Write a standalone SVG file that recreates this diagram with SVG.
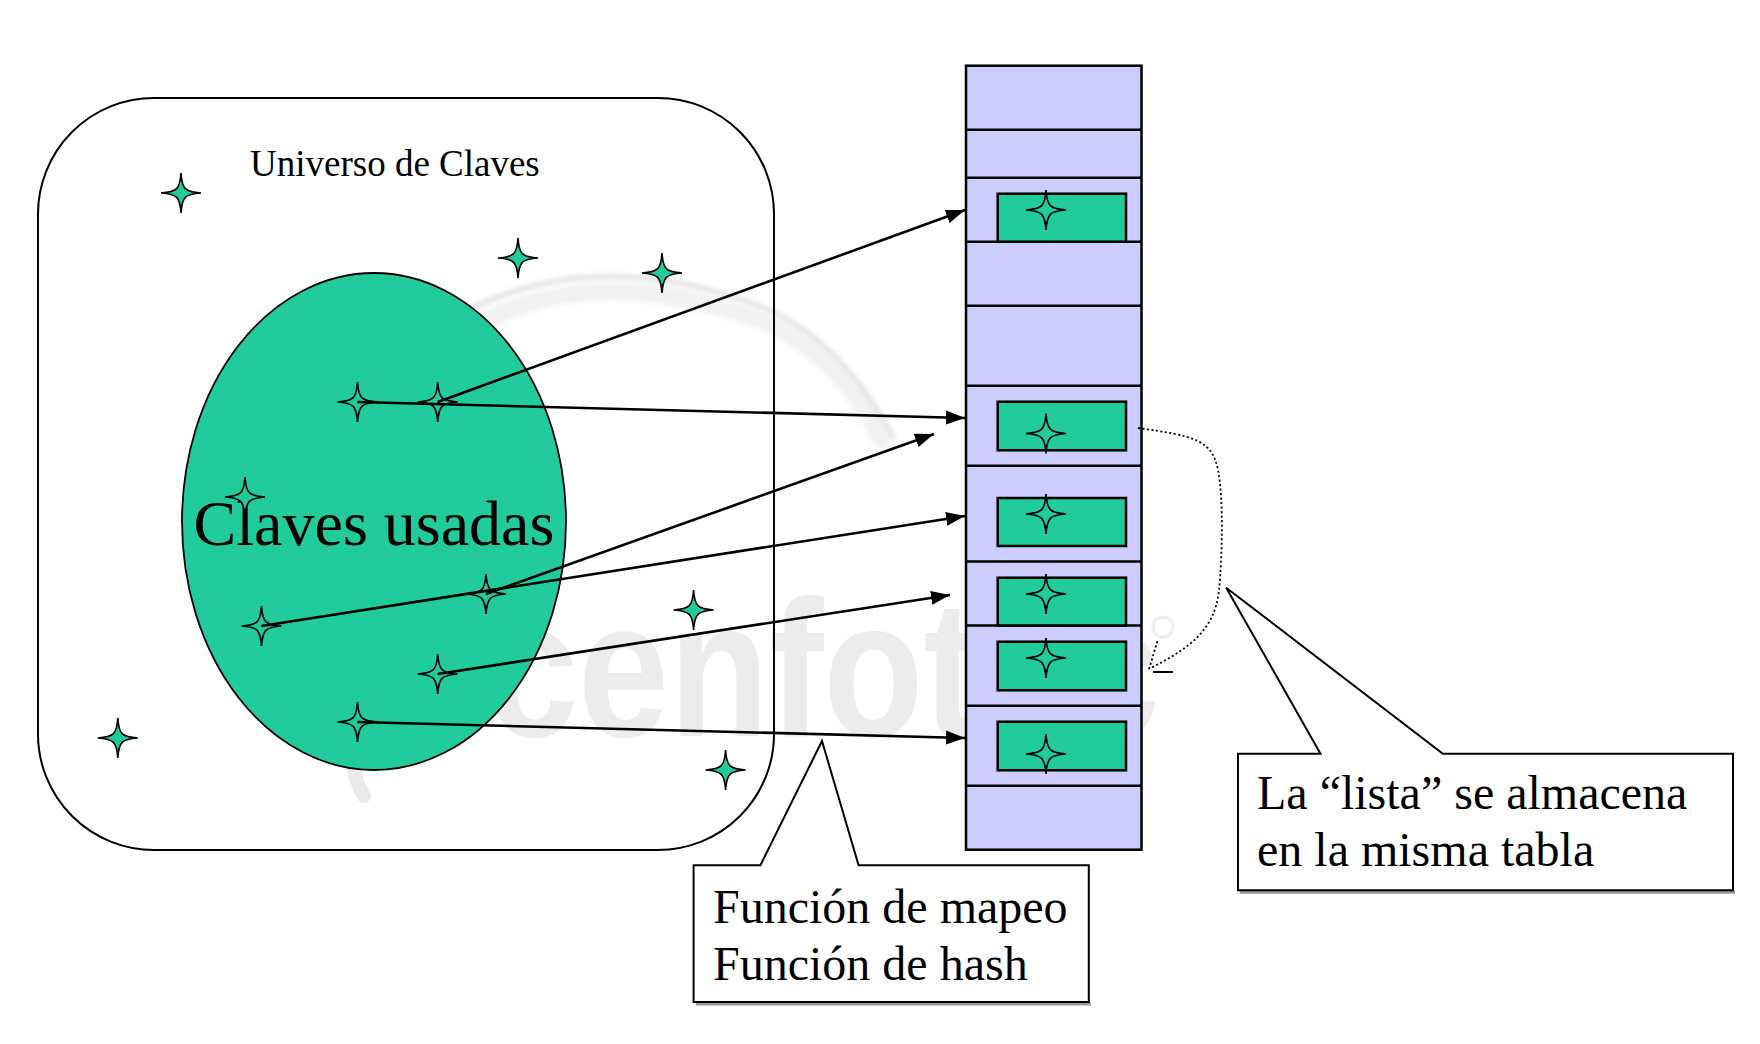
<svg xmlns="http://www.w3.org/2000/svg" width="1760" height="1044" viewBox="0 0 1760 1044">
<style>
.txt{font-family:"Liberation Serif","Times New Roman",serif;fill:#000}
.star{fill:#22CB9B;stroke:#000;stroke-width:1.6;stroke-linejoin:miter}
.cell{fill:#CCCCFF;stroke:#000;stroke-width:2.5}
.row{stroke:#000;stroke-width:2.5}
.box{fill:#22CB9B;stroke:#000;stroke-width:2.5}
.arrow{stroke:#000;stroke-width:2.6;fill:none;marker-end:url(#ah)}
.callout{fill:#fff;stroke:#000;stroke-width:2}
.shadow{fill:none;stroke:#9a9a9a;stroke-width:3}
</style>
<defs>
<marker id="ah" markerUnits="userSpaceOnUse" markerWidth="20" markerHeight="16" refX="19" refY="8" orient="auto">
<path d="M0,1 L19,8 L0,15 Z" fill="#000"/>
</marker>
<path id="star" class="star" d="M0,-20 C1,-4 4,-1 20,0 C4,1 1,4 0,20 C-1,4 -4,1 -20,0 C-4,-1 -1,-4 0,-20 Z"/>
<filter id="soft" x="-10%" y="-10%" width="120%" height="120%"><feGaussianBlur stdDeviation="2.5"/></filter>
</defs>
<rect width="1760" height="1044" fill="#fff"/>

<g id="watermark">
<path d="M482,322 Q600,262 760,320 Q838,352 882,440" fill="none" stroke="#F1F1F1" stroke-width="18" stroke-linecap="round" filter="url(#soft)"/>
<path d="M473,308 Q600,246 760,306 Q840,338 893,437" fill="none" stroke="#D9D9D9" stroke-width="4" stroke-linecap="round" filter="url(#soft)"/>
<path d="M350,750 Q352,775 364,796" fill="none" stroke="#EAEAEA" stroke-width="14" stroke-linecap="round"/>
<text x="487" y="736" font-family="Liberation Sans, Arial, sans-serif" font-weight="bold" font-size="195" textLength="673" lengthAdjust="spacingAndGlyphs" fill="#ECECEC">cenfotec</text>
<circle cx="1163" cy="627" r="10" fill="none" stroke="#EEEEEE" stroke-width="3"/>
</g>

<g id="universe">
<rect x="38" y="98" width="736" height="752" rx="116" ry="116" fill="none" stroke="#000" stroke-width="2"/>
<text class="txt" x="250" y="176" font-size="37">Universo de Claves</text>
</g>

<g id="used-keys">
<ellipse cx="374" cy="521.5" rx="192" ry="248.5" fill="#22CB9B" stroke="#000" stroke-width="1.8"/>
<text class="txt" x="374" y="545" font-size="64" text-anchor="middle">Claves usadas</text>
</g>

<g id="keys">
<use href="#star" x="181" y="193"/>
<use href="#star" x="518" y="258"/>
<use href="#star" x="662" y="273"/>
<use href="#star" x="357.5" y="402"/>
<use href="#star" x="437.7" y="402"/>
<use href="#star" x="245" y="497"/>
<use href="#star" x="486" y="594"/>
<use href="#star" x="261.5" y="626"/>
<use href="#star" x="693.6" y="610"/>
<use href="#star" x="437.7" y="674"/>
<use href="#star" x="357.5" y="722"/>
<use href="#star" x="117.8" y="738"/>
<use href="#star" x="725.6" y="770"/>
</g>

<g id="hash-table">
<rect class="cell" x="966" y="65.7" width="175.5" height="784"/>
<line class="row" x1="966" y1="129.7" x2="1141.5" y2="129.7"/>
<line class="row" x1="966" y1="177.7" x2="1141.5" y2="177.7"/>
<line class="row" x1="966" y1="241.7" x2="1141.5" y2="241.7"/>
<line class="row" x1="966" y1="305.7" x2="1141.5" y2="305.7"/>
<line class="row" x1="966" y1="385.7" x2="1141.5" y2="385.7"/>
<line class="row" x1="966" y1="465.7" x2="1141.5" y2="465.7"/>
<line class="row" x1="966" y1="561.5" x2="1141.5" y2="561.5"/>
<line class="row" x1="966" y1="625.5" x2="1141.5" y2="625.5"/>
<line class="row" x1="966" y1="705.7" x2="1141.5" y2="705.7"/>
<line class="row" x1="966" y1="785.7" x2="1141.5" y2="785.7"/>
</g>

<g id="slot-3"><rect class="box" x="997.7" y="193.7" width="128.3" height="48"/><use href="#star" x="1046" y="210"/></g>
<g id="slot-6"><rect class="box" x="997.7" y="401.7" width="128.3" height="48.6"/><use href="#star" x="1046" y="433.5"/></g>
<g id="slot-7"><rect class="box" x="997.7" y="498" width="128.3" height="48"/><use href="#star" x="1046" y="514"/></g>
<g id="slot-8"><rect class="box" x="997.7" y="577.7" width="128.3" height="47.8"/><use href="#star" x="1046" y="594"/></g>
<g id="slot-9"><rect class="box" x="997.7" y="641.7" width="128.3" height="48.6"/><use href="#star" x="1046" y="658"/></g>
<g id="slot-10"><rect class="box" x="997.7" y="721.7" width="128.3" height="48.6"/><use href="#star" x="1046" y="754"/></g>

<g id="connectors">
<line class="arrow" x1="437.7" y1="402" x2="965" y2="210"/>
<line class="arrow" x1="357.5" y1="402" x2="965" y2="418"/>
<line class="arrow" x1="486" y1="594" x2="934" y2="434"/>
<line class="arrow" x1="261.5" y1="626" x2="965" y2="516"/>
<line class="arrow" x1="437.7" y1="674" x2="950" y2="595"/>
<line class="arrow" x1="357.5" y1="722" x2="965" y2="738"/>
<path d="M1138,428 C1195,436 1212,440 1218,470 C1224,500 1222,560 1219,590 C1215,630 1190,648 1149,669" fill="none" stroke="#000" stroke-width="1.8" stroke-dasharray="2 2.5"/>
<line x1="1149" y1="669" x2="1157.5" y2="641" stroke="#000" stroke-width="1.8" stroke-dasharray="2 2.5"/>
<line x1="1153" y1="672" x2="1173" y2="672" stroke="#000" stroke-width="2"/>
</g>

<g id="callout-hash">
<line class="shadow" x1="696" y1="1004" x2="1091" y2="1004"/>
<path class="callout" d="M693.6,865.3 L760.4,865.3 L822,741 L858.6,865.3 L1088.8,865.3 L1088.8,1002 L693.6,1002 Z"/>
<text class="txt" x="713" y="923" font-size="48">Función de mapeo</text>
<text class="txt" x="713" y="980" font-size="48">Función de hash</text>
</g>

<g id="callout-lista">
<line class="shadow" x1="1240" y1="892.3" x2="1735" y2="892.3"/>
<path class="callout" d="M1238,753.7 L1320.5,753.7 L1226.2,587.7 L1442.9,753.7 L1733,753.7 L1733,890.3 L1238,890.3 Z"/>
<text class="txt" x="1257" y="809" font-size="48">La “lista” se almacena</text>
<text class="txt" x="1257" y="866" font-size="48">en la misma tabla</text>
</g>
</svg>
